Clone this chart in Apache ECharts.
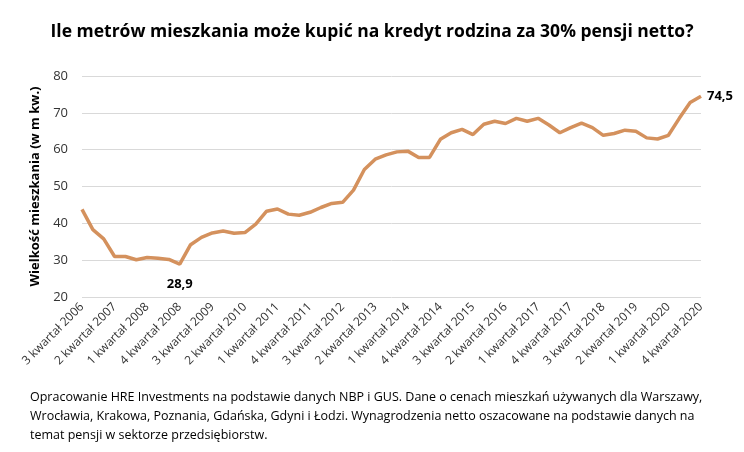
<!DOCTYPE html><html><head><meta charset="utf-8"><script src="https://cdn.jsdelivr.net/npm/echarts@6/dist/echarts.min.js"></script>
<style>body{margin:0}#c{width:744px;height:452px}</style></head><body><div id="c"></div><script>
const quarters=[3,4,1,2,3,4,1,2,3,4,1,2,3,4,1,2,3,4,1,2,3,4,1,2,3,4,1,2,3,4,1,2,3,4,1,2,3,4,1,2,3,4,1,2,3,4,1,2,3,4,1,2,3,4,1,2,3,4];
const categories=quarters.map((q,i)=>q+' kwartał '+(2006+Math.floor((i+2)/4)));
const values=[43.8,38.3,35.8,31,31,30.1,30.7,30.5,30.2,28.9,34.2,36.2,37.4,37.9,37.3,37.5,39.8,43.3,43.9,42.5,42.2,43,44.3,45.4,45.7,49,54.6,57.4,58.6,59.4,59.6,57.9,57.9,62.8,64.6,65.5,64.1,66.9,67.7,67.1,68.5,67.7,68.5,66.7,64.6,66,67.2,66,63.9,64.4,65.3,65,63.2,62.9,63.9,68.5,72.8,74.5];
const labelled={9:'28,9',57:'74,5'};
const c=echarts.init(document.getElementById('c'));
c.setOption({
title:{text:'Ile metrów mieszkania może kupić na kredyt rodzina za 30% pensji netto?',left:'center',top:18,textStyle:{fontFamily:'Open Sans',fontSize:17.5,fontWeight:'bold',color:'#000'}},
grid:{left:82,right:43,top:76,bottom:155},
xAxis:{type:'category',data:categories,boundaryGap:false,axisLine:{show:false},axisTick:{show:false},
 axisLabel:{interval:2,rotate:45,fontFamily:'Open Sans',fontSize:12,color:'#333',margin:8}},
yAxis:{type:'value',min:20,max:80,interval:10,name:'Wielkość mieszkania (w m kw.)',nameLocation:'middle',nameGap:40,
 nameTextStyle:{fontFamily:'Open Sans',fontSize:13,fontWeight:'bold',color:'#000'},
 axisLabel:{fontFamily:'Open Sans',fontSize:13,color:'#333',margin:14},splitLine:{lineStyle:{color:'#d9d9d9'}}},
series:[{type:'line',data:values.map((v,i)=>labelled[i]?{value:v,label:{show:true,formatter:labelled[i],position:i==9?'bottom':'right',distance:i==9?14:6}}:v),
 symbol:'circle',symbolSize:0,showAllSymbol:true,lineStyle:{color:'#D4915D',width:3.5},itemStyle:{color:'#D4915D'},
 label:{show:false,fontFamily:'Open Sans',fontSize:13,fontWeight:'bold',color:'#000'},labelLayout:{hideOverlap:false}}],
graphic:[{type:'text',left:30,top:388,style:{text:'Opracowanie HRE Investments na podstawie danych NBP i GUS. Dane o cenach mieszkań używanych dla Warszawy,\nWrocławia, Krakowa, Poznania, Gdańska, Gdyni i Łodzi. Wynagrodzenia netto oszacowane na podstawie danych na\ntemat pensji w sektorze przedsiębiorstw.',font:'12.5px Open Sans',lineHeight:19,fill:'#000'}}]
});
</script></body></html>
